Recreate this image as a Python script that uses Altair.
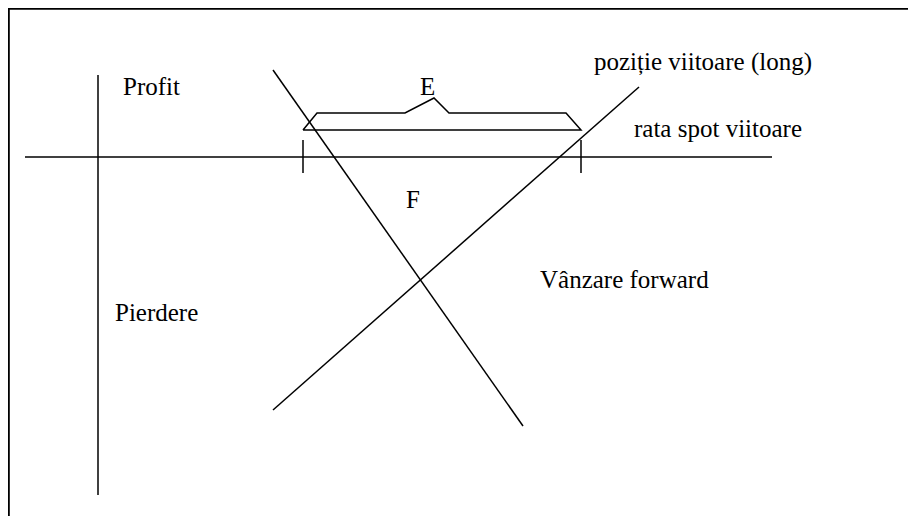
import altair as alt
import pandas as pd

# straight segments (page pixel coordinates of the diagram)
seg_name = ["axis_v", "axis_h", "forward_sale", "future_long", "tick_left", "tick_right", "frame_top", "frame_left"]
seg_x1 = [98, 25, 273, 273, 303, 581, 8, 8.8]
seg_y1 = [75, 157, 70, 410, 140, 140, 8.8, 8]
seg_x2 = [98, 772, 523, 639, 303, 581, 908, 8.8]
seg_y2 = [495, 157, 426, 87, 173, 173, 8.8, 516]
seg_w = [1.5, 1.5, 1.5, 1.5, 1.5, 1.5, 2, 2]

# brace "E" outline
brace_x = [303, 317, 405, 434, 449, 566, 581, 303]
brace_y = [130, 113, 113, 98, 113, 113, 130, 130]

# labels
lab_text = ["Profit", "E", "poziție viitoare (long)", "rata spot viitoare", "F", "Vânzare forward", "Pierdere"]
lab_x = [123, 420, 594, 634, 406, 540, 115]
lab_y = [95, 95, 70, 137, 208, 288, 321]

segs = pd.DataFrame({"name": seg_name, "x": seg_x1, "y": seg_y1, "x2": seg_x2, "y2": seg_y2, "w": seg_w})
brace = pd.DataFrame({"x": brace_x, "y": brace_y, "o": list(range(len(brace_x)))})
labels = pd.DataFrame({"t": lab_text, "x": lab_x, "y": lab_y})

xs = alt.Scale(domain=[8, 908], nice=False, zero=False)
ys = alt.Scale(domain=[8, 516], nice=False, zero=False, reverse=True)

rules = alt.Chart(segs).mark_rule(color="black", clip=False).encode(
    x=alt.X("x:Q", scale=xs, axis=None),
    y=alt.Y("y:Q", scale=ys, axis=None),
    x2="x2:Q",
    y2="y2:Q",
    strokeWidth=alt.StrokeWidth("w:Q", scale=None),
)

brace_line = alt.Chart(brace).mark_line(color="black", strokeWidth=1.5, clip=False).encode(
    x=alt.X("x:Q", scale=xs, axis=None),
    y=alt.Y("y:Q", scale=ys, axis=None),
    order="o:Q",
)

texts = alt.Chart(labels).mark_text(
    align="left", baseline="alphabetic", font="Liberation Serif", fontSize=25, color="black", clip=False
).encode(
    x=alt.X("x:Q", scale=xs, axis=None),
    y=alt.Y("y:Q", scale=ys, axis=None),
    text="t:N",
)

chart = alt.layer(rules, brace_line, texts).properties(
    width=900, height=508, padding=0,
    autosize=alt.AutoSizeParams(type="none"),
    background="white",
).configure_view(stroke=None)

chart.save("out.html", embed_options={"renderer": "svg", "actions": False})
